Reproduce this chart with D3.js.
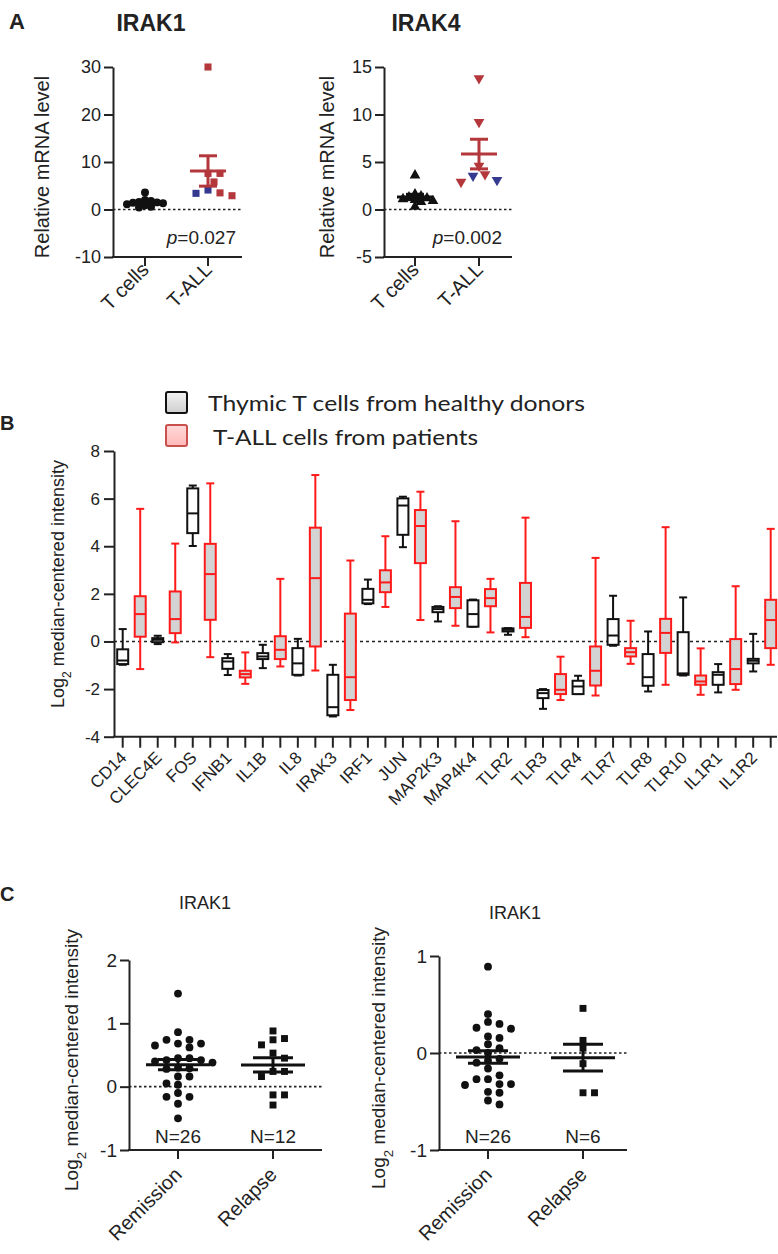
<!DOCTYPE html>
<html>
<head>
<meta charset="utf-8">
<script src="https://cdn.jsdelivr.net/npm/d3@7"></script>
<style>
  body { margin: 0; background: #fff; }
  svg text { font-family: "Liberation Sans", Arial, sans-serif; fill: #222; }
</style>
</head>
<body>
<div id="fig"></div>
<script>
// ---- panel A: qPCR, relative mRNA level ----
const aGroups = ["T cells", "T-ALL"];
const irak1TCells = [3.6, 2.0, 1.8, 1.6, 1.5, 1.4, 1.3, 1.1, 0.9, 0.6, 0.4];
const irak1TallRed = [30, 7.6, 7.6, 5.8, 3.5, 2.9];
const irak1TallBlue = [4.1, 3.4];
const irak4TCells = [3.6, 1.6, 1.4, 1.3, 1.2, 1.1, 1.0, 0.9, 0.8, 0.3];
const irak4TallRed = [13.8, 9.2, 4.6, 3.7, 2.9];
const irak4TallBlue = [3.55, 3.1];

// ---- panel B: box plots [min, q1, median, q3, max] ----
const genes = ["CD14", "CLEC4E", "FOS", "IFNB1", "IL1B", "IL8", "IRAK3", "IRF1", "JUN", "MAP2K3",
  "MAP4K4", "TLR2", "TLR3", "TLR4", "TLR7", "TLR8", "TLR10", "IL1R1", "IL1R2"];
const healthyBoxes = [
  [-0.98, -0.95, -0.80, -0.33, 0.52],
  [-0.11, -0.03, 0.07, 0.14, 0.24],
  [4.01, 4.55, 5.38, 6.43, 6.55],
  [-1.41, -1.15, -0.84, -0.70, -0.53],
  [-1.12, -0.74, -0.63, -0.49, -0.14],
  [-1.43, -1.40, -0.92, -0.28, 0.11],
  [-3.15, -3.10, -2.76, -1.40, -0.98],
  [1.57, 1.60, 1.75, 2.21, 2.60],
  [3.96, 4.48, 5.71, 6.01, 6.08],
  [0.84, 1.23, 1.36, 1.45, 1.48],
  [0.62, 0.62, 1.15, 1.73, 1.76],
  [0.28, 0.42, 0.49, 0.55, 0.56],
  [-2.83, -2.38, -2.17, -2.04, -2.00],
  [-2.21, -2.21, -1.89, -1.65, -1.44],
  [-0.18, -0.14, 0.25, 0.94, 1.92],
  [-2.10, -1.86, -1.50, -0.53, 0.42],
  [-1.43, -1.40, -1.34, 0.39, 1.85],
  [-2.14, -1.82, -1.40, -1.29, -0.95],
  [-1.26, -0.92, -0.81, -0.73, 0.32]
];
const tallBoxes = [
  [-1.16, 0.20, 1.15, 1.90, 5.57],
  [-0.04, 0.35, 0.94, 2.10, 4.11],
  [-0.66, 0.91, 2.83, 4.10, 6.64],
  [-1.78, -1.51, -1.37, -1.23, -0.46],
  [-1.05, -0.74, -0.35, 0.22, 2.63],
  [-1.22, -0.21, 2.66, 4.78, 6.99],
  [-2.88, -2.46, -1.50, 1.17, 3.40],
  [1.45, 2.07, 2.48, 2.99, 4.42],
  [0.90, 3.29, 4.85, 5.52, 6.29],
  [0.66, 1.40, 1.87, 2.28, 5.05],
  [0.38, 1.48, 1.82, 2.20, 2.63],
  [0.18, 0.57, 1.03, 2.46, 5.20],
  [-2.46, -2.21, -2.03, -1.37, -0.64],
  [-2.27, -1.85, -1.23, -0.21, 3.51],
  [-0.94, -0.63, -0.45, -0.28, 0.87],
  [-1.82, -0.48, 0.36, 0.95, 4.80],
  [-2.24, -1.82, -1.68, -1.43, -0.29],
  [-2.03, -1.79, -1.16, 0.10, 2.32],
  [-0.98, -0.28, 0.90, 1.75, 4.73]
];
const legendLabels = ["Thymic T cells from healthy donors", "T-ALL cells from patients"];

// ---- panel C: remission vs relapse ----
const cGroups = ["Remission", "Relapse"];
const cLeftRemission = [1.47, 0.86, 0.74, 0.74, 0.68, 0.68, 0.65, 0.62, 0.45, 0.45, 0.42, 0.42, 0.40,
  0.38, 0.30, 0.29, 0.28, 0.16, 0.16, 0.05, 0.03, -0.10, -0.16, -0.16, -0.27, -0.50];
const cLeftRelapse = [0.88, 0.76, 0.74, 0.66, 0.53, 0.45, 0.24, 0.24, 0.16, -0.13, -0.13, -0.29];
const cRightRemission = [0.89, 0.40, 0.32, 0.30, 0.26, 0.25, 0.17, 0.155, 0.09, 0.05, 0.03, 0.0,
  -0.06, -0.08, -0.10, -0.16, -0.23, -0.27, -0.27, -0.32, -0.32, -0.33, -0.40, -0.41, -0.49, -0.53];
const cRightRelapse = [0.46, 0.13, 0.05, -0.11, -0.41, -0.41];

const RED_A = "#b3373b", BLUE_A = "#35398f";
const plain = d => String(d);

const svg = d3.select("#fig").append("svg").attr("width", 778).attr("height", 1254);

// place points so they do not overlap too much (simple beeswarm)
function swarm(items, y, cx, r, step) {
  const placed = [];
  items.slice().sort((a, b) => b.v - a.v).forEach(d => {
    const py = y(d.v);
    let k = 0, px = cx;
    while (k < 60) {
      const off = k === 0 ? 0 : Math.ceil(k / 2) * step * (k % 2 ? 1 : -1);
      px = cx + off;
      if (placed.every(p => Math.hypot(p.x - px, p.y - py) >= 2 * r)) break;
      k++;
    }
    placed.push(Object.assign({}, d, { x: px, y: py }));
  });
  return placed;
}

function meanSem(vals) {
  const m = d3.mean(vals);
  return { m, s: d3.deviation(vals) / Math.sqrt(vals.length) };
}

// generic dot plot (panels A and C)
function dotPanel(o) {
  const g = svg.append("g");
  const y = d3.scaleLinear().domain(o.domain).range([o.yBottom, o.yTop]);
  const x = d3.scalePoint().domain(o.groups).range(o.catRange);

  // y axis
  const ya = g.append("g").attr("transform", `translate(${o.x0},0)`)
    .call(d3.axisLeft(y).tickValues(o.ticks).tickFormat(plain).tickSize(9).tickSizeOuter(0).tickPadding(3));
  ya.attr("font-family", null);
  ya.selectAll("text").style("font-size", o.font + "px").attr("fill", "#222");
  ya.selectAll("line,path").attr("stroke", "#222").attr("stroke-width", 2);

  // x axis
  g.append("line").attr("x1", o.x0 - 1).attr("x2", o.xEnd)
    .attr("y1", o.yBottom).attr("y2", o.yBottom).attr("stroke", "#222").attr("stroke-width", 2);
  g.selectAll(".xt").data(o.groups).join("line")
    .attr("x1", d => x(d)).attr("x2", d => x(d))
    .attr("y1", o.yBottom).attr("y2", o.yBottom + 9)
    .attr("stroke", "#222").attr("stroke-width", 2);
  g.selectAll(".xl").data(o.groups).join("text")
    .attr("transform", d => `translate(${x(d) + 5},${o.yBottom + o.labelDy}) rotate(-45)`)
    .attr("text-anchor", "end").style("font-size", o.labelFont + "px").text(d => d);

  // zero line
  g.append("line").attr("x1", o.x0).attr("x2", o.zeroEnd)
    .attr("y1", y(0)).attr("y2", y(0))
    .attr("stroke", "#222").attr("stroke-width", 1.6).attr("stroke-dasharray", "2.5,2.5");

  // y label
  const yl = g.append("text")
    .attr("transform", `translate(${o.yLabelX},${o.yLabelY}) rotate(-90)`)
    .attr("text-anchor", "middle").style("font-size", o.yLabelFont + "px");
  if (o.log2) {
    yl.append("tspan").text("Log");
    yl.append("tspan").attr("baseline-shift", "sub").style("font-size", (o.yLabelFont * 0.7) + "px").text("2");
    yl.append("tspan").text(" median-centered intensity");
  } else {
    yl.text(o.yLabel);
  }

  // points + mean/SEM
  o.series.forEach(s => {
    const cx = x(s.group);
    const items = [];
    s.sets.forEach(set => set.values.forEach(v => items.push({ v, color: set.color })));
    const pts = swarm(items, y, cx, s.r, s.step);
    const sym = d3.symbol().type(s.shape).size(o.symSize);
    g.append("g").selectAll("path").data(pts).join("path")
      .attr("d", sym)
      .attr("transform", d => `translate(${d.x},${d.y})` + (s.flip ? " rotate(180)" : ""))
      .attr("fill", d => d.color);

    const st = meanSem(items.map(d => d.v));
    const lc = s.lineColor;
    g.append("line").attr("x1", cx - o.meanW).attr("x2", cx + o.meanW)
      .attr("y1", y(st.m)).attr("y2", y(st.m)).attr("stroke", lc).attr("stroke-width", 3);
    g.append("line").attr("x1", cx).attr("x2", cx)
      .attr("y1", y(st.m - st.s)).attr("y2", y(st.m + st.s)).attr("stroke", lc).attr("stroke-width", 3);
    [st.m - st.s, st.m + st.s].forEach(v => {
      g.append("line").attr("x1", cx - o.semW).attr("x2", cx + o.semW)
        .attr("y1", y(v)).attr("y2", y(v)).attr("stroke", lc).attr("stroke-width", 3);
    });
  });

  return { g, x, y };
}

// ================= Panel A =================
svg.append("text").attr("x", 9).attr("y", 29).style("font-size", "22px").style("font-weight", "bold").text("A");

[
  { title: "IRAK1", titleX: 151, x0: 113, xEnd: 242, cat: [145, 208], domain: [-10, 30], ticks: [-10, 0, 10, 20, 30],
    tc: irak1TCells, red: irak1TallRed, blue: irak1TallBlue, tShape: d3.symbolCircle, aShape: d3.symbolSquare,
    flip: false, p: "0.027", pEnd: 236, labelX: 49 },
  { title: "IRAK4", titleX: 426, x0: 384, xEnd: 512, cat: [415, 479], domain: [-5, 15], ticks: [-5, 0, 5, 10, 15],
    tc: irak4TCells, red: irak4TallRed, blue: irak4TallBlue, tShape: d3.symbolTriangle, aShape: d3.symbolTriangle,
    flip: true, p: "0.002", pEnd: 502, labelX: 334 }
].forEach(c => {
  dotPanel({
    groups: aGroups, domain: c.domain, ticks: c.ticks, x0: c.x0, xEnd: c.xEnd, zeroEnd: c.xEnd,
    catRange: c.cat, yTop: 67, yBottom: 257, font: 18, labelFont: 20, labelDy: 14,
    yLabel: "Relative mRNA level", yLabelX: c.labelX, yLabelY: 167, yLabelFont: 20,
    symSize: 50, meanW: 18, semW: 9,
    series: [
      { group: "T cells", shape: c.tShape, flip: false, lineColor: "#111", r: 2.4, step: 3,
        sets: [{ values: c.tc, color: "#111" }] },
      { group: "T-ALL", shape: c.aShape, flip: c.flip, lineColor: RED_A, r: 4.6, step: 6,
        sets: [{ values: c.red, color: RED_A }, { values: c.blue, color: BLUE_A }] }
    ]
  });
  svg.append("text").attr("x", c.titleX).attr("y", 31).attr("text-anchor", "middle")
    .style("font-size", "23px").style("font-weight", "bold").text(c.title);
  const pt = svg.append("text").attr("x", c.pEnd).attr("y", 244).attr("text-anchor", "end").style("font-size", "19px");
  pt.append("tspan").style("font-style", "italic").text("p");
  pt.append("tspan").text("=" + c.p);
});

// ================= Panel B =================
(function () {
  const g = svg.append("g");
  const x0 = 114, xEnd = 777;
  const y = d3.scaleLinear().domain([-4, 8]).range([736.7, 451]);
  const ids = [];
  genes.forEach(gn => { ids.push(gn + "|h"); ids.push(gn + "|t"); });
  const x = d3.scalePoint().domain(ids).range([122.7, 770.7]);

  svg.append("text").attr("x", 0).attr("y", 430).style("font-size", "20px").style("font-weight", "bold").text("B");

  // legend
  const defs = svg.append("defs");
  const gr = defs.append("linearGradient").attr("id", "lgGray").attr("x1", 0).attr("y1", 0).attr("x2", 0).attr("y2", 1);
  gr.append("stop").attr("offset", "0%").attr("stop-color", "#f2f2f2");
  gr.append("stop").attr("offset", "100%").attr("stop-color", "#cfcfcf");
  const gp = defs.append("linearGradient").attr("id", "lgPink").attr("x1", 0).attr("y1", 0).attr("x2", 0).attr("y2", 1);
  gp.append("stop").attr("offset", "0%").attr("stop-color", "#ffd9d9");
  gp.append("stop").attr("offset", "100%").attr("stop-color", "#ffb9b9");
  const leg = [
    { label: legendLabels[0], fill: "url(#lgGray)", stroke: "#111", y: 392, tx: 208, ty: 411, len: 377 },
    { label: legendLabels[1], fill: "url(#lgPink)", stroke: "#c9504d", y: 425, tx: 213, ty: 445, len: 265 }
  ];
  leg.forEach(l => {
    svg.append("rect").attr("x", 166).attr("y", l.y).attr("width", 21).attr("height", 21).attr("rx", 2)
      .attr("fill", l.fill).attr("stroke", l.stroke).attr("stroke-width", 2);
    svg.append("text").attr("x", l.tx).attr("y", l.ty).style("font-family", "Lato, 'Open Sans', sans-serif")
      .style("font-size", "21px").attr("textLength", l.len).attr("lengthAdjust", "spacingAndGlyphs").text(l.label);
  });

  // axes
  const ya = g.append("g").attr("transform", `translate(${x0},0)`)
    .call(d3.axisLeft(y).tickValues([-4, -2, 0, 2, 4, 6, 8]).tickFormat(plain).tickSize(10).tickSizeOuter(0).tickPadding(4));
  ya.attr("font-family", null);
  ya.selectAll("text").style("font-size", "17px").attr("fill", "#222");
  ya.selectAll("line,path").attr("stroke", "#222").attr("stroke-width", 2);
  g.append("line").attr("x1", x0 - 1).attr("x2", xEnd).attr("y1", y(-4)).attr("y2", y(-4))
    .attr("stroke", "#222").attr("stroke-width", 2);
  g.selectAll(".bt").data(ids).join("line")
    .attr("x1", d => x(d)).attr("x2", d => x(d)).attr("y1", y(-4)).attr("y2", y(-4) + 11)
    .attr("stroke", "#222").attr("stroke-width", 2);
  g.selectAll(".bl").data(genes).join("text")
    .attr("transform", d => `translate(${x(d + "|h") + 5},${y(-4) + 22}) rotate(-45)`)
    .attr("text-anchor", "end").style("font-size", "17px").text(d => d);

  const yl = g.append("text").attr("transform", "translate(64,584) rotate(-90)")
    .attr("text-anchor", "middle").style("font-size", "18px");
  yl.append("tspan").text("Log");
  yl.append("tspan").attr("baseline-shift", "sub").style("font-size", "12px").text("2");
  yl.append("tspan").text(" median-centered intensity");

  // zero line
  g.append("line").attr("x1", x0).attr("x2", xEnd).attr("y1", y(0)).attr("y2", y(0))
    .attr("stroke", "#222").attr("stroke-width", 1.6).attr("stroke-dasharray", "3,3");

  // boxes
  const boxes = [];
  genes.forEach((gn, i) => {
    boxes.push({ id: gn + "|h", s: healthyBoxes[i], stroke: "#111", fill: "#fff" });
    boxes.push({ id: gn + "|t", s: tallBoxes[i], stroke: "#ff1a1a", fill: "#d3d3d3" });
  });
  const bw = 11, cw = 8;
  const bg = g.selectAll(".box").data(boxes).join("g").attr("transform", d => `translate(${x(d.id)},0)`);
  bg.append("line").attr("y1", d => y(d.s[0])).attr("y2", d => y(d.s[4]))
    .attr("stroke", d => d.stroke).attr("stroke-width", 2);
  bg.append("line").attr("x1", -cw / 2).attr("x2", cw / 2).attr("y1", d => y(d.s[4])).attr("y2", d => y(d.s[4]))
    .attr("stroke", d => d.stroke).attr("stroke-width", 2);
  bg.append("line").attr("x1", -cw / 2).attr("x2", cw / 2).attr("y1", d => y(d.s[0])).attr("y2", d => y(d.s[0]))
    .attr("stroke", d => d.stroke).attr("stroke-width", 2);
  bg.append("rect").attr("x", -bw / 2).attr("width", bw)
    .attr("y", d => y(d.s[3])).attr("height", d => Math.max(1, y(d.s[1]) - y(d.s[3])))
    .attr("fill", d => d.fill).attr("stroke", d => d.stroke).attr("stroke-width", 2);
  bg.append("line").attr("x1", -bw / 2).attr("x2", bw / 2).attr("y1", d => y(d.s[2])).attr("y2", d => y(d.s[2]))
    .attr("stroke", d => d.stroke).attr("stroke-width", 2);
})();

// ================= Panel C =================
svg.append("text").attr("x", 0).attr("y", 901).style("font-size", "20px").style("font-weight", "bold").text("C");

[
  { x0: 129, xEnd: 322, cat: [178, 273], domain: [-1, 2], ticks: [-1, 0, 1, 2], yTop: 960,
    rem: cLeftRemission, rel: cLeftRelapse, titleX: 205, titleY: 909, labelX: 78, labelY: 1060 },
  { x0: 439, xEnd: 627, cat: [488, 583], domain: [-1, 1], ticks: [-1, 0, 1], yTop: 956,
    rem: cRightRemission, rel: cRightRelapse, titleX: 515, titleY: 919, labelX: 385, labelY: 1058 }
].forEach(c => {
  const p = dotPanel({
    groups: cGroups, domain: c.domain, ticks: c.ticks, x0: c.x0, xEnd: c.xEnd, zeroEnd: c.xEnd,
    catRange: c.cat, yTop: c.yTop, yBottom: 1150, font: 19, labelFont: 20, labelDy: 26,
    log2: true, yLabelX: c.labelX, yLabelY: c.labelY, yLabelFont: 19,
    symSize: 48, meanW: 32, semW: 20,
    series: [
      { group: "Remission", shape: d3.symbolCircle, flip: false, lineColor: "#111", r: 3.8, step: 11.5,
        sets: [{ values: c.rem, color: "#111" }] },
      { group: "Relapse", shape: d3.symbolSquare, flip: false, lineColor: "#111", r: 3.8, step: 11.5,
        sets: [{ values: c.rel, color: "#111" }] }
    ]
  });
  svg.append("text").attr("x", c.titleX).attr("y", c.titleY).attr("text-anchor", "middle")
    .style("font-size", "18px").text("IRAK1");
  [c.rem, c.rel].forEach((vals, i) => {
    svg.append("text").attr("x", p.x(cGroups[i])).attr("y", 1143).attr("text-anchor", "middle")
      .style("font-size", "19px").text("N=" + vals.length);
  });
});
</script>
</body>
</html>
